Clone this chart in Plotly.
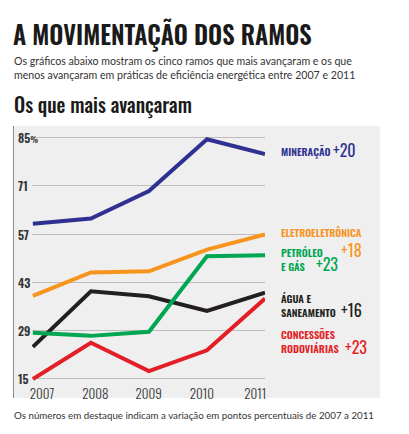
import plotly.graph_objects as go

years = [2007, 2008, 2009, 2010, 2011]
year_labels = ["2007", "2008", "2009", "2010", "2011"]
mineracao = [60, 61.5, 69.5, 84.5, 80.2]
eletro = [39.1, 45.9, 46.2, 52.5, 56.9]
petroleo = [28.4, 27.5, 28.7, 50.6, 50.9]
agua = [24.3, 40.4, 39.0, 34.7, 40.0]
concessoes = [15.0, 25.5, 17.3, 23.3, 38.3]
y_ticks = [85, 71, 57, 43, 29, 15]
y_tick_text = ["85<span style='font-size:8px'>%</span>", "71", "57", "43", "29", "15"]

NAVY = "#2e3192"
ORANGE = "#f7941e"
GREEN = "#00a651"
BLACK = "#231f20"
RED = "#e41e26"
COND = "Oswald, Antonio, Barlow Condensed, Archivo Narrow, sans-serif"
BODY = "Lato, Open Sans, sans-serif"

W, H = 409, 434
L, R, T, B = 32, 265, 126, 398


def px(x):
    return (x - L) / (R - L)


def py(y):
    return (B - y) / (B - T)


fig = go.Figure()
for vals, col in [(mineracao, NAVY), (eletro, ORANGE), (agua, BLACK),
                  (petroleo, GREEN), (concessoes, RED)]:
    fig.add_trace(go.Scatter(x=years, y=vals, mode="lines",
                             line=dict(color=col, width=4),
                             showlegend=False, hoverinfo="skip", cliponaxis=False))
# carrier trace for the label axis
fig.add_trace(go.Scatter(x=years, y=[None] * len(years), xaxis="x2",
                         showlegend=False, hoverinfo="skip"))

shapes = [
    dict(type="rect", xref="paper", yref="paper", x0=px(13), x1=px(380),
         y0=py(398), y1=py(126), fillcolor="#efefef", line_width=0, layer="below"),
    dict(type="line", xref="paper", yref="paper", x0=px(13.5), x1=px(13.5),
         y0=py(398), y1=py(126), line=dict(color="#8c8c8c", width=1)),
]

ann = []
for v, t in zip(y_ticks, y_tick_text):
    ann.append(dict(x=px(16), y=v, xref="paper", yref="y", text=t, showarrow=False,
                    xanchor="left", yanchor="middle",
                    font=dict(family=COND, size=12, color="#333333", weight=600)))


def label(x, y, text, color, size=10.4, weight=600):
    ann.append(dict(x=px(x), y=py(y), xref="paper", yref="paper", text=text,
                    showarrow=False, xanchor="left", yanchor="middle", align="left",
                    borderpad=0,
                    font=dict(family=COND, size=size, color=color, weight=weight)))


label(280, 151, "MINERAÇÃO", NAVY)
label(332, 150, "+20", NAVY, 16, 400)
label(280, 232, "ELETROELETRÔNICA", ORANGE)
label(280, 259, "PETRÓLEO<br>E GÁS", GREEN)
label(340, 250, "+18", ORANGE, 16, 400)
label(315, 264, "+23", GREEN, 16, 400)
label(280, 305, "ÁGUA E<br>SANEAMENTO", BLACK)
label(340, 310, "+16", BLACK, 16, 400)
label(280, 341.5, "CONCESSÕES<br>RODOVIÁRIAS", RED)
label(344, 347, "+23", RED, 16, 400)

# texts outside the chart
ann.append(dict(x=px(11), y=py(34), xref="paper", yref="paper",
                text="A MOVIMENTAÇÃO DOS RAMOS", showarrow=False,
                xanchor="left", yanchor="middle",
                font=dict(family=COND, size=24.5, color="#1a1a1a", weight=600)))
ann.append(dict(x=px(12), y=py(68), xref="paper", yref="paper",
                text="Os gráficos abaixo mostram os cinco ramos que mais avançaram e os que<br>menos avançaram em práticas de eficiência energética entre 2007 e 2011",
                showarrow=False, xanchor="left", yanchor="middle", align="left",
                font=dict(family=BODY, size=10.6, color="#333333")))
ann.append(dict(x=px(12), y=py(104), xref="paper", yref="paper",
                text="Os que mais avançaram", showarrow=False,
                xanchor="left", yanchor="middle",
                font=dict(family=COND, size=19.8, color="#1a1a1a", weight=500)))
ann.append(dict(x=px(12), y=py(415), xref="paper", yref="paper",
                text="Os números em destaque indicam a variação em pontos percentuais de 2007 a 2011",
                showarrow=False, xanchor="left", yanchor="middle",
                font=dict(family=BODY, size=9.75, color="#333333")))

fig.update_layout(
    width=W, height=H,
    margin=dict(l=L, r=W - R, t=T, b=H - B, pad=0),
    paper_bgcolor="white", plot_bgcolor="rgba(0,0,0,0)",
    shapes=shapes, annotations=ann,
    xaxis=dict(range=[2006.985, 2011.0], showgrid=False, zeroline=False,
               showticklabels=False, showline=False, fixedrange=True),
    xaxis2=dict(overlaying="x", anchor="free", position=py(385), side="bottom",
                range=[2006.812, 2011.184], tickvals=years, ticktext=year_labels,
                ticks="", showgrid=False, zeroline=False, showline=False,
                tickfont=dict(family=COND, size=13, color="#333333", weight=300)),
    yaxis=dict(range=[9.49, 88.33], tickvals=y_ticks, showticklabels=False,
               showgrid=True, gridcolor="#bdbdbd", gridwidth=1, zeroline=False,
               showline=False, fixedrange=True),
)

fig.write_html("out.html", config={"displayModeBar": False},
               post_script="document.body.style.margin='0';document.body.style.padding='0';")
